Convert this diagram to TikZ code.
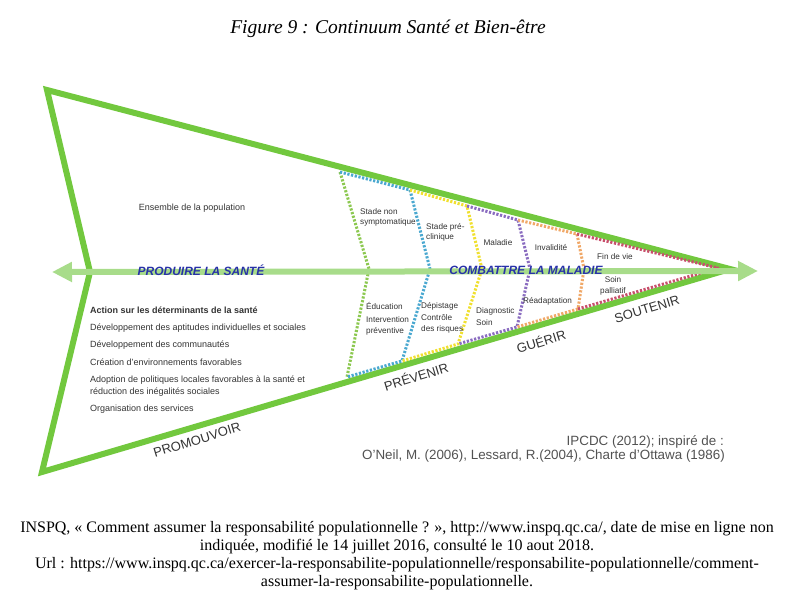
\documentclass[tikz,border=0pt]{standalone}
\usepackage{fontspec}
\setmainfont{Liberation Serif}
\setsansfont{Liberation Sans}
\usetikzlibrary{arrows.meta}
\definecolor{outergreen}{HTML}{72C83E}
\definecolor{arrowgreen}{HTML}{A8DC8A}
\definecolor{dgreen}{HTML}{8CC850}
\definecolor{dblue}{HTML}{4AA8D0}
\definecolor{dyellow}{HTML}{F0E030}
\definecolor{dpurple}{HTML}{8A6CC0}
\definecolor{dorange}{HTML}{F0A868}
\definecolor{dred}{HTML}{C8506C}
\definecolor{labelblue}{HTML}{2832A8}
\definecolor{txtgray}{HTML}{333333}
\tikzset{
  outer/.style={draw=outergreen, line width=6pt, line join=miter},
  dotline/.style={line width=3pt, dash pattern=on 2.2pt off 1.6pt, line join=round},
  smalltxt/.style={font=\sffamily\fontsize{9}{10}\selectfont, text=txtgray, inner sep=0pt, anchor=west},
  sectxt/.style={font=\sffamily\fontsize{8.2}{10.5}\selectfont, text=txtgray, inner sep=0pt, align=left},
  bigtxt/.style={font=\sffamily\bfseries\itshape\fontsize{12}{13}\selectfont, text=labelblue, inner sep=0pt},
  verbtxt/.style={font=\sffamily\fontsize{13}{15}\selectfont, text=txtgray, inner sep=0pt},
  citetxt/.style={font=\sffamily\fontsize{13.4}{15}\selectfont, text=txtgray!85, inner sep=0pt, anchor=east},
  captxt/.style={font=\fontsize{16}{18}\selectfont, inner sep=0pt, align=center}
}
\begin{document}
\begin{tikzpicture}[x=1pt,y=-1pt]
\useasboundingbox (0,0) rectangle (794,601);
% outer shape
\coordinate (TL) at (47,90);
\coordinate (TIP) at (730,269);
\coordinate (BL) at (42,472);
\coordinate (NOTCH) at (90,272);
\draw[outer] (TL) -- (TIP) -- (BL) -- (NOTCH) -- cycle;
% divider coordinates
\coordinate (gT) at (340,172); \coordinate (gM) at (369,269); \coordinate (gB) at (347,377);
\coordinate (bT) at (410,190); \coordinate (bM) at (430,269); \coordinate (bB) at (402,361);
\coordinate (yT) at (467,206); \coordinate (yM) at (482,269); \coordinate (yB) at (458,344);
\coordinate (pT) at (518,220); \coordinate (pM) at (530,269); \coordinate (pB) at (517,327);
\coordinate (oT) at (577,234); \coordinate (oM) at (584,269); \coordinate (oB) at (578,309);
\coordinate (rE) at (718,268);
% dotted sections
\draw[dotline, dgreen] (gT) -- (gM) -- (gB);
\draw[dotline, dblue] (gT) -- (bT) -- (bM) -- (bB) -- (gB);
\draw[dotline, dyellow] (bT) -- (yT) -- (yM) -- (yB) -- (bB);
\draw[dotline, dpurple] (yT) -- (pT) -- (pM) -- (pB) -- (yB);
\draw[dotline, dorange] (pT) -- (oT) -- (oM) -- (oB) -- (pB);
\draw[dotline, dred] (oT) -- (rE) -- (oB);
% main arrow
\coordinate (AL) at (52,272);
\coordinate (AR) at (758,271);
\draw[arrowgreen, line width=6pt, {Triangle[length=20pt,width=19pt]}-{Triangle[length=20pt,width=19pt]}] (AL) -- (AR);
% arrow labels
\node[bigtxt] (prod) at (201,270) {PRODUIRE LA SANTÉ};
\node[bigtxt] (comb) at (526,270) {COMBATTRE LA MALADIE};
% upper left text
\node[smalltxt, anchor=center] (ens) at (192,208) {Ensemble de la population};
% lower left block
\node[smalltxt, font=\sffamily\bfseries\fontsize{9}{10}\selectfont] (act) at (90,310) {Action sur les déterminants de la santé};
\node[smalltxt] (l1) at (90,328) {Développement des aptitudes individuelles et sociales};
\node[smalltxt] (l2) at (90,345) {Développement des communautés};
\node[smalltxt] (l3) at (90,362) {Création d'environnements favorables};
\node[smalltxt] (l4) at (90,380) {Adoption de politiques locales favorables à la santé et};
\node[smalltxt] (l5) at (90,392) {réduction des inégalités sociales};
\node[smalltxt] (l6) at (90,409) {Organisation des services};
% section texts (upper)
\node[sectxt, anchor=north west] (s1) at (360,208) {Stade non\\symptomatique};
\node[sectxt, anchor=north west] (s2) at (426,223) {Stade pré-\\clinique};
\node[sectxt] (s3) at (498,243) {Maladie};
\node[sectxt] (s4) at (551,248) {Invalidité};
\node[sectxt] (s5) at (615,257) {Fin de vie};
\node[sectxt, align=center] (s6) at (613,286) {Soin\\palliatif};
% section texts (lower)
\node[sectxt, anchor=north west] (e1) at (366,302) {Éducation\\[3pt]Intervention\\préventive};
\node[sectxt, anchor=north west] (e2) at (421,302) {Dépistage\\[2pt]Contrôle\\des risques};
\node[sectxt, anchor=north west] (e3) at (476,307) {Diagnostic\\[2pt]Soin};
\node[sectxt, anchor=west] (e4) at (523,301) {Réadaptation};
% verbs
\node[verbtxt, rotate=17] (v1) at (197,440) {PROMOUVOIR};
\node[verbtxt, rotate=17] (v2) at (416,376) {PRÉVENIR};
\node[verbtxt, rotate=17] (v3) at (541,341) {GUÉRIR};
\node[verbtxt, rotate=17] (v4) at (647,309) {SOUTENIR};
% citation
\node[citetxt] (c1) at (724,442) {IPCDC (2012); inspiré de :};
\node[citetxt] (c2) at (725,456) {O'Neil, M. (2006), Lessard, R.(2004), Charte d'Ottawa (1986)};
% title
\node[font=\itshape\fontsize{19.5}{22}\selectfont, inner sep=0pt] (title) at (388,29) {Figure 9 : Continuum Santé et Bien-être};
% caption
\node[captxt] (cap) at (397,556) {INSPQ, « Comment assumer la responsabilité populationnelle ? », http://www.inspq.qc.ca/, date de mise en ligne non\\indiquée, modifié le 14 juillet 2016, consulté le 10 aout 2018.\\Url : https://www.inspq.qc.ca/exercer-la-responsabilite-populationnelle/responsabilite-populationnelle/comment-\\assumer-la-responsabilite-populationnelle.};
\end{tikzpicture}
\end{document}
